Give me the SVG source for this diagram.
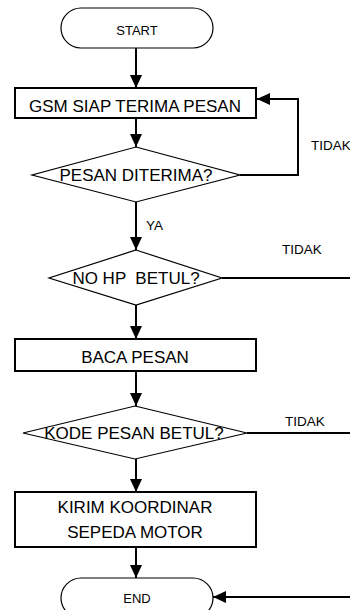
<svg xmlns="http://www.w3.org/2000/svg" width="350" height="610" viewBox="0 0 350 610">
<style>
text{font-family:"Liberation Sans",Arial,sans-serif;fill:#000;text-anchor:middle;white-space:pre}
.n{font-size:17px}
.s{font-size:13px}
.l{font-size:13.5px;text-anchor:start}
.box{fill:#fff;stroke:#000;stroke-width:2}
.term{fill:#fff;stroke:#000;stroke-width:1.2}
.dia{fill:#fff;stroke:#000;stroke-width:1.2}
.c{fill:none;stroke:#000;stroke-width:2}
</style>
<defs>
<marker id="ah" markerUnits="userSpaceOnUse" markerWidth="14" markerHeight="14" viewBox="0 0 14 14" refX="13" refY="7" orient="auto">
<path d="M0,1 L13,7 L0,13 Z" fill="#000"/>
</marker>
</defs>
<g id="connectors">
<line class="c" x1="136" y1="48" x2="136" y2="88" marker-end="url(#ah)"/>
<line class="c" x1="136" y1="118" x2="136" y2="147" marker-end="url(#ah)"/>
<polyline class="c" points="240,175 298,175 298,99 257,99" marker-end="url(#ah)"/>
<line class="c" x1="136" y1="202" x2="136" y2="250" marker-end="url(#ah)"/>
<line class="c" x1="222" y1="278" x2="350" y2="278"/>
<line class="c" x1="136" y1="305" x2="136" y2="339" marker-end="url(#ah)"/>
<line class="c" x1="136" y1="371" x2="136" y2="406" marker-end="url(#ah)"/>
<line class="c" x1="247" y1="433" x2="350" y2="433"/>
<line class="c" x1="136" y1="459" x2="136" y2="492" marker-end="url(#ah)"/>
<line class="c" x1="136" y1="547" x2="136" y2="578" marker-end="url(#ah)"/>
<line class="c" x1="350" y1="597" x2="213" y2="597" marker-end="url(#ah)"/>
<text class="l" x="311" y="150">TIDAK</text>
<text class="l" x="146" y="230">YA</text>
<text class="l" x="282" y="254">TIDAK</text>
<text class="l" x="285" y="426">TIDAK</text>
</g>
<g id="start">
<rect class="term" x="61" y="8" width="152" height="40" rx="20" ry="20"/>
<text class="s" x="137" y="35">START</text>
</g>
<g id="gsm">
<rect class="box" x="15" y="88" width="241" height="30"/>
<text class="n" x="135" y="112">GSM SIAP TERIMA PESAN</text>
</g>
<g id="pesan-diterima">
<polygon class="dia" points="136,147 240,175 136,202 32,175"/>
<text class="n" x="136" y="181">PESAN DITERIMA?</text>
</g>
<g id="no-hp">
<polygon class="dia" points="136,250 222,278 136,305 49,278"/>
<text class="n" x="136" y="284">NO HP  BETUL?</text>
</g>
<g id="baca">
<rect class="box" x="15" y="339" width="241" height="32"/>
<text class="n" x="135" y="363">BACA PESAN</text>
</g>
<g id="kode">
<polygon class="dia" points="135,406 247,433 135,459 23,433"/>
<text class="n" x="134" y="439">KODE PESAN BETUL?</text>
</g>
<g id="kirim">
<rect class="box" x="15" y="492" width="241" height="55"/>
<text class="n" x="135" y="513">KIRIM KOORDINAR</text>
<text class="n" x="135" y="538">SEPEDA MOTOR</text>
</g>
<g id="end">
<rect class="term" x="61" y="578" width="152" height="40" rx="20" ry="20"/>
<text class="s" x="137" y="603">END</text>
</g>
</svg>
